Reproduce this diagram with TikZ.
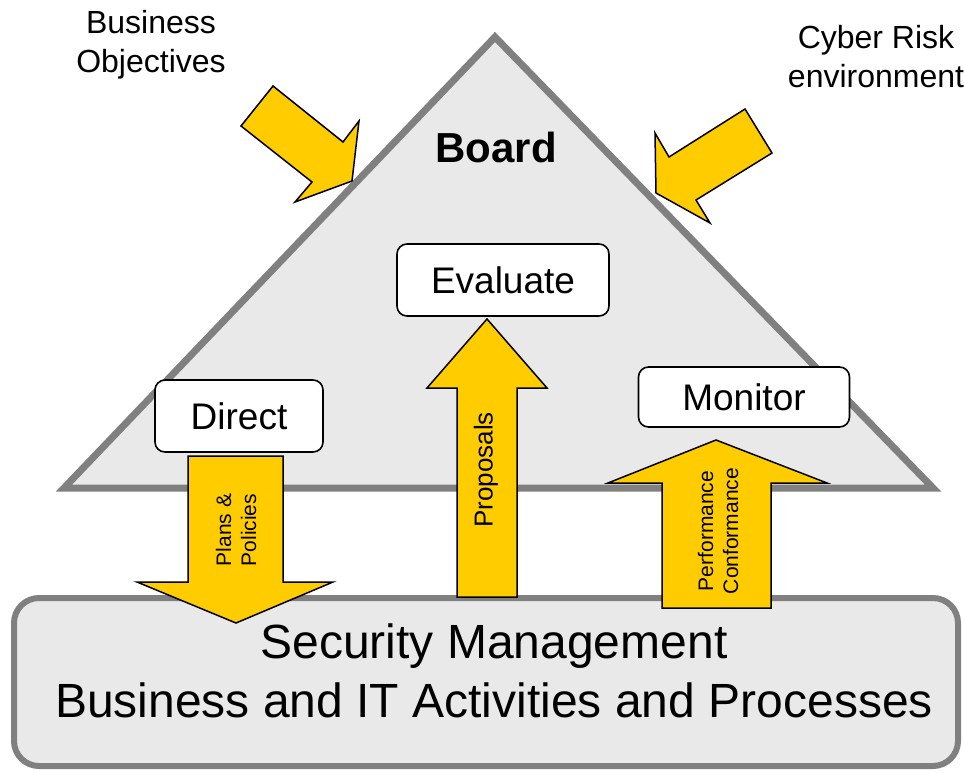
\documentclass[tikz,border=0pt]{standalone}
\usepackage{fontspec}
\setmainfont{Liberation Sans}
\usepackage{tikz}
\usetikzlibrary{positioning}
\definecolor{gold}{HTML}{FFCC00}
\definecolor{rim}{HTML}{808080}
\definecolor{pane}{HTML}{E9E9E9}

\begin{document}
\begin{tikzpicture}[x=0.5pt, y=-0.5pt,
    flow/.style={draw=black, line width=0.75pt, fill=gold, line join=miter},
    flowtext/.style={align=center, rotate=90, font=\fontsize{10.5}{12.5}\selectfont},
    outside/.style={align=center, font=\fontsize{16}{19.5}\selectfont}]
   \useasboundingbox (0,0) rectangle (964,772);
   \draw[rim, line width=3.5pt, fill=pane] (495,37) -- (64,488) -- (933,488) -- cycle;
   \draw[rim, line width=3pt, fill=pane, rounded corners=12.5pt] (14,598) rectangle (958,766);
   % inputs from outside
   \draw[flow] (273,86) -- (343,142) -- (359,121) -- (352,181) -- (295,202) -- (312,182) -- (241,126) -- cycle;
   \draw[flow] (745,109) -- (772,153) -- (696,200) -- (710,223) -- (656,193) -- (655,133) -- (669,157) -- cycle;
   \node (obj) [outside] at (151,45) {Business\\Objectives};
   \node (risk) [outside] at (876,57) {Cyber Risk\\environment};
   \node (board) [font=\fontsize{21}{25}\selectfont\bfseries] at (496,147) {Board};
   \begin{scope}[every node/.style={draw=black, line width=0.8pt, fill=white, rounded corners=5pt,
       inner sep=0pt, font=\fontsize{18.5}{22}\selectfont}]
    \node (eval) [minimum width=106pt, minimum height=36pt] at (503,280) {Evaluate};
    \node (dir) [minimum width=84pt, minimum height=36pt] at (239,416) {Direct};
    \node (mon) [minimum width=105.5pt, minimum height=30pt] at (744,397) {Monitor};
   \end{scope}
   % flows between board and management
   \draw[flow] (188,456) -- (283,456) -- (283,582) -- (333,582) -- (236,623) -- (137,582) -- (188,582) -- cycle;
   \draw[flow] (457,597) -- (457,388) -- (427,388) -- (487,319) -- (547,388) -- (517,388) -- (517,597) -- cycle;
   \draw[flow] (662,608) -- (662,483) -- (608,483) -- (716,440) -- (827,483) -- (771,483) -- (771,608) -- cycle;
   \node (plans) [flowtext] at (236,530) {Plans \&\\Policies};
   \node (prop) [flowtext, font=\fontsize{13}{15}\selectfont] at (486,470) {Proposals};
   \node (perf) [flowtext] at (718,531) {Performance\\Conformance};
   \node (mgmt) [anchor=base, font=\fontsize{24}{28}\selectfont] at (494,658) {Security Management};
   \node (acts) [anchor=base, font=\fontsize{24}{28}\selectfont] at (494,717) {Business and IT Activities and Processes};
\end{tikzpicture}
\end{document}
